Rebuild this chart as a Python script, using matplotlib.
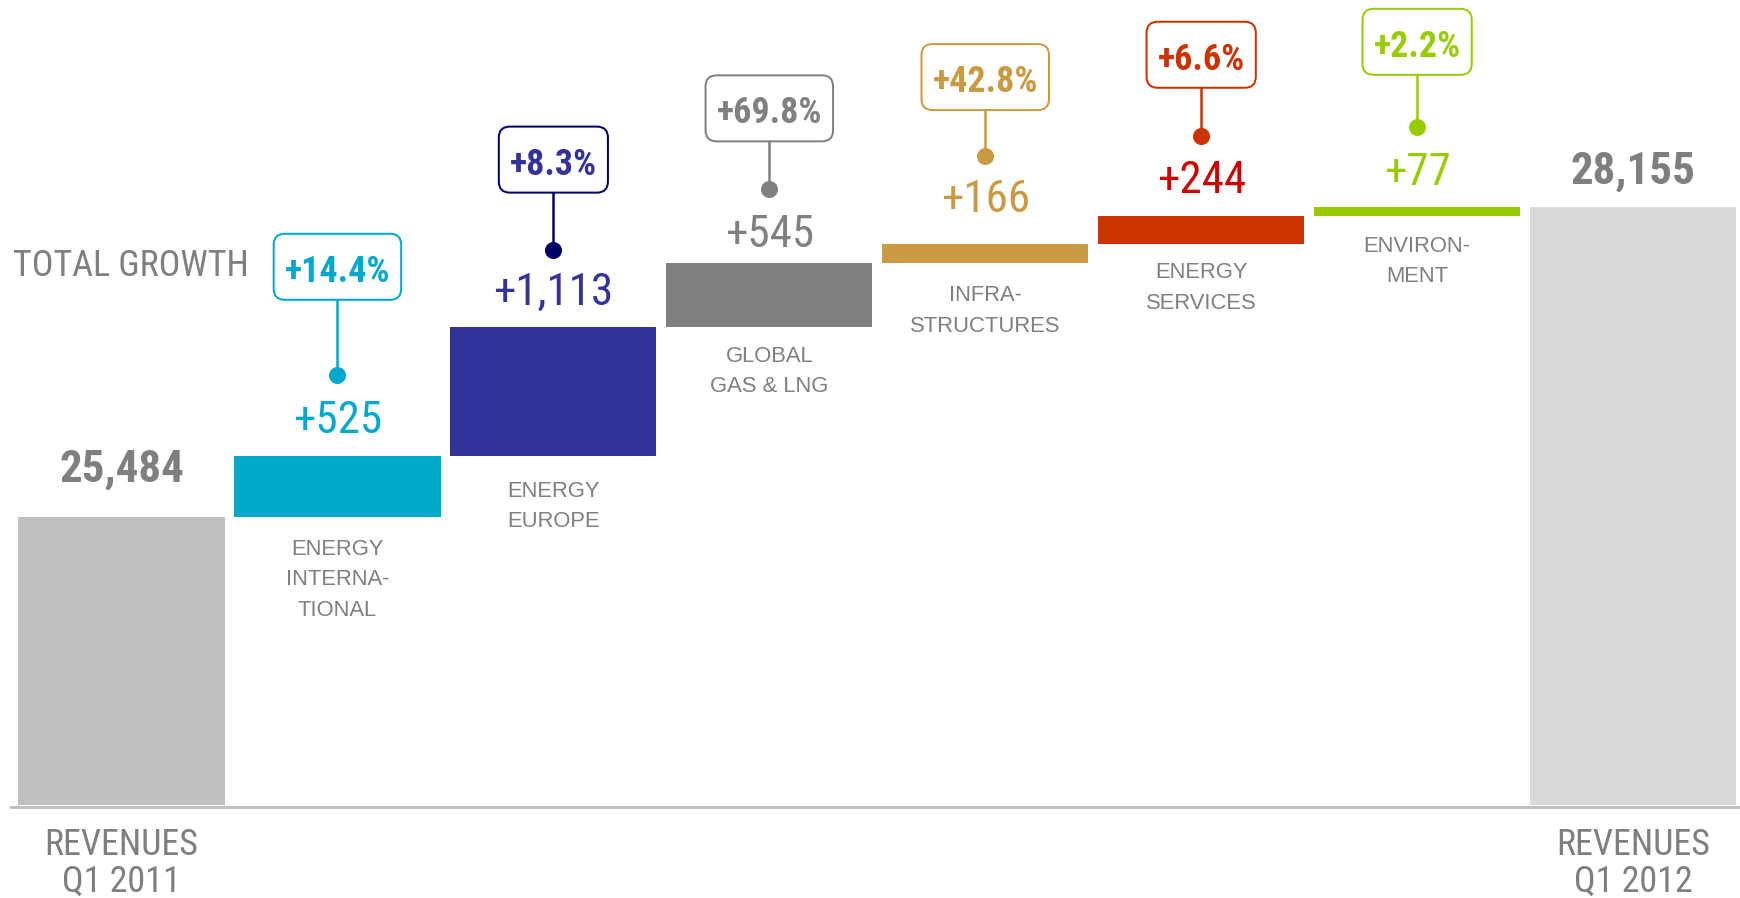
import matplotlib
matplotlib.use("Agg")
import matplotlib.pyplot as plt
from matplotlib import font_manager
from matplotlib.patches import FancyBboxPatch
from matplotlib.transforms import IdentityTransform
import numpy as np

# ---- data ----
start_value = 25484
end_value = 28155
segments = ["ENERGY\nINTERNA-\nTIONAL", "ENERGY\nEUROPE", "GLOBAL\nGAS & LNG",
            "INFRA-\nSTRUCTURES", "ENERGY\nSERVICES", "ENVIRON-\nMENT"]
deltas = [525, 1113, 545, 166, 244, 77]
growth = ["+14.4%", "+8.3%", "+69.8%", "+42.8%", "+6.6%", "+2.2%"]
start_label = "REVENUES\nQ1 2011"
end_label = "REVENUES\nQ1 2012"

# ---- style ----
bar_colors = ["#00a9cc", "#333399", "#808080", "#c99a41", "#cc3300", "#99cc00"]
value_colors = ["#00a9cc", "#333399", "#808080", "#c99a41", "#cc0000", "#99cc00"]
pct_colors = ["#00a9cc", "#333399", "#808080", "#c99a41", "#cc3300", "#99cc00"]
dot_colors = ["#00a9cc", "#000066", "#808080", "#c99a41", "#cc3300", "#99cc00"]
GREY = "#7f7f7f"
# offsets in pixels (dpi 72 -> 1pt = 1px)
value_off = [40, 39, 33, 49, 40, 39]
dot_off = [81, 77, 74, 88, 80, 80]
box_off = [189, 167, 155, 167, 161, 165]
label_off = [30, 33, 27, 30, 26, 28]

# look for a narrow font (the original uses Arial Narrow)
fonts = font_manager.fontManager.ttflist
names = {f.name for f in fonts}
stretch = 'normal'
main_font = None
for cand in ["Liberation Sans Narrow", "Arial Narrow", "Roboto Condensed",
             "Noto Sans Condensed", "Open Sans Condensed", "DejaVu Sans Condensed"]:
    if cand in names:
        main_font = cand
        break
if main_font is None:
    for fam in ["Noto Sans", "Open Sans", "Roboto", "DejaVu Sans"]:
        if any(f.name == fam and f.stretch in ('condensed', 'semi-condensed') for f in fonts):
            main_font, stretch = fam, 'condensed'
            break
k = 1.0
if main_font is None:
    main_font, k = "Liberation Sans", 0.88
plt.rcParams['font.family'] = [main_font, "DejaVu Sans"]
plt.rcParams['font.stretch'] = stretch
LABEL_FONT = ["Liberation Sans", "DejaVu Sans"]

W, H = 1740, 898
fig = plt.figure(figsize=(W / 72, H / 72), dpi=72)
ax = fig.add_axes([0, 0, 1, 1])
ax.axis('off')

base = 23000  # broken axis start
ymin, ymax = 22199, 29936
ax.set_xlim(-0.5627, 7.4953)
ax.set_ylim(ymin, ymax)
ppu = H / (ymax - ymin)


def px(v):
    return v / ppu


x = np.arange(len(deltas) + 2)
cum = start_value + np.concatenate([[0], np.cumsum(deltas)])
bottoms = [base] + list(cum[:-1]) + [base]
heights = [start_value - base] + deltas + [end_value - base]
colors = ["#bfbfbf"] + bar_colors + ["#d9d9d9"]
ax.bar(x, heights, bottom=bottoms, width=0.955, color=colors, zorder=2)

ax.axhline(base - px(1.5), xmin=11 / W, xmax=1, color="#c0c0c0", lw=3, zorder=1)


def put(xi, y, dy, s, fs, color, weight='normal', ls=1.2, z=3, scale=True, **kw):
    # dy: pixel offset (upwards) of the first line's cap centre
    if scale:
        fs = fs * k
    return ax.annotate(s, (xi, y), xytext=(0, dy + 0.36 * fs), textcoords='offset points',
                       ha='center', va='top', fontsize=fs, color=color,
                       fontweight=weight, linespacing=ls, zorder=z, **kw)


# totals
put(x[0], start_value, 52, f"{start_value:,}", 45, GREY, 'bold')
put(x[-1], end_value, 40, f"{end_value:,}", 45, GREY, 'bold')
put(x[0], base, -35, start_label, 36, GREY, ls=1.03)
put(x[-1], base, -35, end_label, 36, GREY, ls=1.03)

renderer = fig.canvas.get_renderer()
for i, d in enumerate(deltas):
    xi = x[i + 1]
    top = bottoms[i + 1] + heights[i + 1]
    bot = bottoms[i + 1]
    put(xi, top, value_off[i], f"+{d:,}", 45, value_colors[i])
    put(xi, bot, -label_off[i], segments[i], 22, GREY, ls=1.6, scale=False,
        family=LABEL_FONT)
    ax.plot([xi, xi], [top + px(dot_off[i]), top + px(box_off[i])],
            color=dot_colors[i], lw=2.5, zorder=3)
    ax.plot(xi, top + px(dot_off[i]), 'o', ms=16, color=dot_colors[i], zorder=4)
    t = put(xi, top, box_off[i], growth[i], 36, pct_colors[i], 'bold', z=6)
    bb = t.get_window_extent(renderer)
    cx, cy = ax.transData.transform((xi, top + px(box_off[i])))
    bw, bh = bb.width + 22, 66
    ax.add_patch(FancyBboxPatch((cx - bw / 2, cy - bh / 2), bw, bh,
                                boxstyle='round,pad=0,rounding_size=11',
                                fc='white', ec=dot_colors[i], lw=2,
                                transform=IdentityTransform(), zorder=5))

ax.text(13 / W, 1 - 266 / H, "TOTAL GROWTH", transform=ax.transAxes,
        ha='left', va='center', fontsize=36 * k, color=GREY)

fig.savefig("out.png", dpi=72)
